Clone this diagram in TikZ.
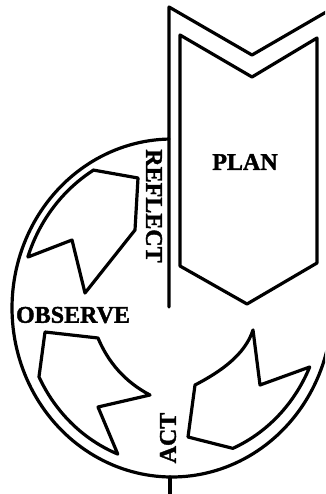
\documentclass[tikz,border=0pt]{standalone}
\usepackage{fontspec}
\setmainfont{Liberation Serif}[BoldFeatures={FakeBold=1.6}]
\begin{document}
\begin{tikzpicture}[x=1pt,y=-1pt,
  outline/.style={draw=black, line width=3.2pt, line join=round, line cap=round},
  lbl/.style={font=\fontsize{24}{24}\selectfont\bfseries, inner sep=0pt}]
\fill[white] (0,0) rectangle (325,494);
\useasboundingbox (0,0) rectangle (325,494);
\clip (0,0) rectangle (325,494);
% circle
\draw[outline] plot[domain=91.07:360, samples=150] ({172+160*cos(\x)},{308-169*sin(\x)});
% outer column and divider
\coordinate (divtop) at (169,7);
\coordinate (divbot) at (169,307);
\draw[outline] (divbot) -- (divtop) -- (252,55) -- (340,4);
\draw[outline] (170,477) -- (170,500);
% inner PLAN arrow
\draw[outline] (180,35) -- (252,77) -- (317,38) -- (317,263) -- (247,304) -- (180,266) -- cycle;
% REFLECT arrow
\draw[outline] (93,170) -- (138,178) -- (135,230) -- (85,293) -- (72,240) -- (28,257)
  -- plot[domain=161.5:121.2, samples=40] ({172+152*cos(\x)},{308-161*sin(\x)}) -- cycle;
% OBSERVE arrow
\draw[outline] (45,332) -- (98,338) .. controls (108,362) and (125,382) .. (150,395) -- (98,407)
  -- plot[domain=248.5:206, samples=40] ({172+148*cos(\x)},{308-157*sin(\x)}) -- cycle;
% ACT arrow
\draw[outline] (195,385) .. controls (220,372) and (245,355) .. (253,330) -- (260,385)
  -- plot[domain=338:294.7, samples=40] ({172+(148.5-3*(338-\x)/43.3)*cos(\x)},{308-(157.5-3*(338-\x)/43.3)*sin(\x)})
  -- (188,437) -- cycle;
% labels
\node[lbl] (plan) at (245,162) {PLAN};
\node[lbl, rotate=-90] (reflect) at (154,206) {REFLECT};
\node[lbl] (observe) at (73,315) {OBSERVE};
\node[lbl, rotate=90] (act) at (168,438) {ACT};
\end{tikzpicture}
\end{document}
